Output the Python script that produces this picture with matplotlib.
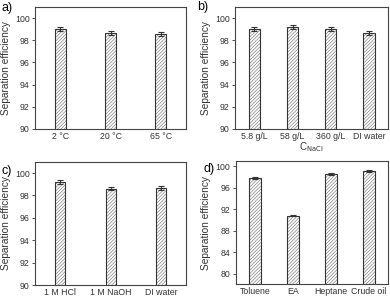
import numpy as np
import matplotlib
matplotlib.use("Agg")
import matplotlib.pyplot as plt

plt.rcParams['font.family'] = ['Liberation Sans', 'DejaVu Sans']
plt.rcParams['hatch.linewidth'] = 0.45

# panel data
temp_labels = ['2 °C', '20 °C', '65 °C']
temp_vals = [99.05, 98.65, 98.6]
temp_err = [0.2, 0.18, 0.18]

salt_labels = ['5.8 g/L', '58 g/L', '360 g/L', 'DI water']
salt_vals = [99.0, 99.2, 99.05, 98.65]
salt_err = [0.2, 0.2, 0.2, 0.18]

ph_labels = ['1 M HCl', '1 M NaOH', 'DI water']
ph_vals = [99.2, 98.6, 98.65]
ph_err = [0.18, 0.15, 0.18]

oil_labels = ['Toluene', 'EA', 'Heptane', 'Crude oil']
oil_vals = [97.8, 90.8, 98.6, 99.1]
oil_err = [0.2, 0.15, 0.15, 0.15]

DARK = '#333333'


def draw_panel(ax, labels, vals, err, width, ylim, yticks, tag, tag_xy):
    x = np.arange(len(labels))
    ax.bar(x, vals, width, color='white', edgecolor='#7a7a7a',
           hatch='//////////', linewidth=0, zorder=2)
    ax.bar(x, vals, width, color='none', edgecolor=DARK, linewidth=0.8, zorder=3)
    ax.errorbar(x, vals, yerr=err, fmt='none', ecolor=DARK, elinewidth=0.8,
                capsize=2, capthick=0.8, zorder=4)
    ax.set_xlim(-0.5, len(labels) - 0.5)
    ax.set_ylim(*ylim)
    ax.set_yticks(yticks)
    ax.set_xticks(x)
    ax.set_xticklabels(labels)
    ax.tick_params(axis='y', direction='out', length=2.5, width=0.6,
                   labelsize=6.3, colors=DARK, pad=1.5)
    ax.tick_params(axis='x', direction='in', length=2, width=0.6,
                   labelsize=6.3, colors=DARK, pad=2)
    for s in ax.spines.values():
        s.set_color('#444444')
        s.set_linewidth(0.8)
    ax.set_ylabel('Separation efficiency', fontsize=7.3, color=DARK, labelpad=3)
    ax.figure.text(tag_xy[0], tag_xy[1], tag, fontsize=9, color='black',
                   ha='left', va='center')


fig = plt.figure(figsize=(3.9, 2.97), dpi=100)
ax_a = fig.add_axes([0.090, 0.566, 0.387, 0.410])
ax_b = fig.add_axes([0.603, 0.566, 0.392, 0.410])
ax_c = fig.add_axes([0.090, 0.040, 0.387, 0.415])
ax_d = fig.add_axes([0.605, 0.043, 0.390, 0.415])

draw_panel(ax_a, temp_labels, temp_vals, temp_err, 0.22, (90, 101),
           [90, 92, 94, 96, 98, 100], 'a)', (0.003, 0.972))
draw_panel(ax_b, salt_labels, salt_vals, salt_err, 0.3, (90, 101),
           [90, 92, 94, 96, 98, 100], 'b)', (0.505, 0.975))
draw_panel(ax_c, ph_labels, ph_vals, ph_err, 0.2, (90, 101),
           [90, 92, 94, 96, 98, 100], 'c)', (0.003, 0.425))
draw_panel(ax_d, oil_labels, oil_vals, oil_err, 0.3, (78, 101),
           [80, 84, 88, 92, 96, 100], 'd)', (0.522, 0.432))

ax_b.set_xlabel(r'C$_{\mathrm{NaCl}}$', fontsize=7, color=DARK, labelpad=0)

fig.savefig('out.png', dpi=100)
